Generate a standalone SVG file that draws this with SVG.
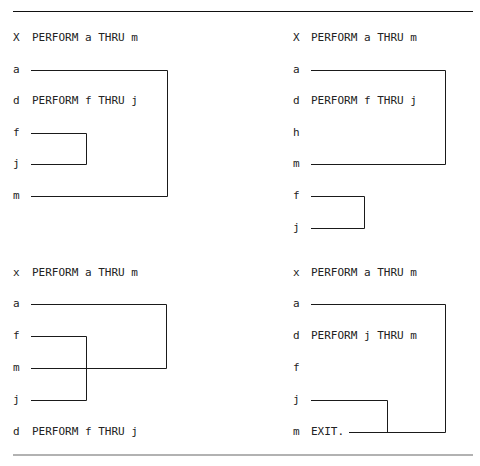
<svg xmlns="http://www.w3.org/2000/svg" width="480" height="466" viewBox="0 0 480 466">
<style>
text{font-family:"DejaVu Sans Mono","Liberation Mono",monospace;font-size:11px;fill:#222}
.c{fill:none;stroke:#1a1a1a;stroke-width:1}
.rule{stroke:#111;stroke-width:1}
.rule2{stroke:#999;stroke-width:1.5}
</style>
<rect width="480" height="466" fill="#fff"/>
<line class="rule" x1="13" y1="11.5" x2="473" y2="11.5"/>
<line class="rule2" x1="13" y1="455" x2="473" y2="455"/>

<g id="panel1">
  <g id="p1-x"><text x="13" y="41">X</text><text x="32" y="41">PERFORM a THRU m</text></g>
  <g id="p1-a"><text x="13" y="73">a</text></g>
  <g id="p1-d"><text x="13" y="104">d</text><text x="32" y="104">PERFORM f THRU j</text></g>
  <g id="p1-f"><text x="13" y="136">f</text></g>
  <g id="p1-j"><text x="13" y="167">j</text></g>
  <g id="p1-m"><text x="13" y="199">m</text></g>
</g>
<g id="panel2">
  <g id="p2-x"><text x="293" y="41">X</text><text x="311" y="41">PERFORM a THRU m</text></g>
  <g id="p2-a"><text x="293" y="73">a</text></g>
  <g id="p2-d"><text x="293" y="104">d</text><text x="311" y="104">PERFORM f THRU j</text></g>
  <g id="p2-h"><text x="293" y="136">h</text></g>
  <g id="p2-m"><text x="293" y="167">m</text></g>
  <g id="p2-f"><text x="293" y="199">f</text></g>
  <g id="p2-j"><text x="293" y="231">j</text></g>
</g>
<g id="panel3">
  <g id="p3-x"><text x="13" y="276">x</text><text x="32" y="276">PERFORM a THRU m</text></g>
  <g id="p3-a"><text x="13" y="307">a</text></g>
  <g id="p3-f"><text x="13" y="339">f</text></g>
  <g id="p3-m"><text x="13" y="371">m</text></g>
  <g id="p3-j"><text x="13" y="403">j</text></g>
  <g id="p3-d"><text x="13" y="435">d</text><text x="32" y="435">PERFORM f THRU j</text></g>
</g>
<g id="panel4">
  <g id="p4-x"><text x="293" y="276">x</text><text x="311" y="276">PERFORM a THRU m</text></g>
  <g id="p4-a"><text x="293" y="307">a</text></g>
  <g id="p4-d"><text x="293" y="339">d</text><text x="311" y="339">PERFORM j THRU m</text></g>
  <g id="p4-f"><text x="293" y="371">f</text></g>
  <g id="p4-j"><text x="293" y="403">j</text></g>
  <g id="p4-m"><text x="293" y="435">m</text><text x="311" y="435">EXIT.</text></g>
</g>

<g id="connectors">
  <polyline class="c" points="31,70.5 167.5,70.5 167.5,196.5 31,196.5"/>
  <polyline class="c" points="31,133.5 86.5,133.5 86.5,164.5 31,164.5"/>
  <polyline class="c" points="311,70.5 445.5,70.5 445.5,164.5 311,164.5"/>
  <polyline class="c" points="311,196.5 364.5,196.5 364.5,228.5 311,228.5"/>
  <polyline class="c" points="31,304.5 166.5,304.5 166.5,368.5 31,368.5"/>
  <polyline class="c" points="31,336.5 86.5,336.5 86.5,400.5 31,400.5"/>
  <polyline class="c" points="311,304.5 445.5,304.5 445.5,432.5 349,432.5"/>
  <polyline class="c" points="311,400.5 387.5,400.5 387.5,432.5"/>
</g>
</svg>
